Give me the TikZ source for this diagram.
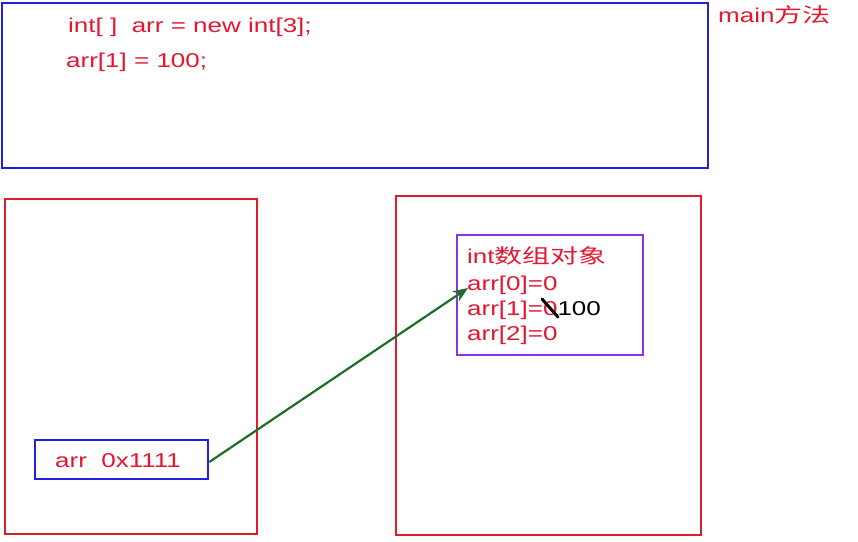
\documentclass[tikz,border=0pt]{standalone}
\usepackage{fontspec}
\setmainfont{Liberation Sans}[FakeStretch=1.3]
\newfontfamily\cjk{Noto Sans CJK SC}[FakeStretch=1.4]
\usetikzlibrary{arrows.meta}
\definecolor{boxred}{RGB}{222,30,38}
\definecolor{boxblue}{RGB}{35,30,225}
\definecolor{boxpurple}{RGB}{140,50,235}
\definecolor{txtred}{RGB}{228,22,48}
\definecolor{arrgreen}{RGB}{30,110,40}
\tikzset{
  frame/.style={draw, line width=2.3pt, inner sep=0pt, anchor=north west},
  label/.style={inner sep=0pt, anchor=base west, text=txtred, font=\fontsize{20}{24}\selectfont},
}
\begin{document}
\begin{tikzpicture}[x=1pt,y=-1pt]
\useasboundingbox (0,0) rectangle (858,541);
% frames
\node[frame, draw=boxblue, minimum width=706pt, minimum height=165pt] (mainbox) at (1,2) {};
\node[frame, draw=boxred, minimum width=252pt, minimum height=335pt] (stack) at (4,198) {};
\node[frame, draw=boxred, minimum width=305pt, minimum height=339pt] (heap) at (395,195) {};
\node[frame, draw=boxpurple, minimum width=186pt, minimum height=120pt] (obj) at (456,234) {};
\node[frame, draw=boxblue, minimum width=173pt, minimum height=39pt] (var) at (34,439) {};
% texts
\node[label] (code1) at (68,32) {int[ ]\ \ arr = new int[3];};
\node[label] (code2) at (66,67) {arr[1] = 100;};
\node[label] (mainlbl) at (718,22) {main{\cjk 方法}};
\node[label] (objtitle) at (467,263) {int{\cjk 数组对象}};
\node[label] (a0) at (467,290) {arr[0]=0};
\node[label] (a1) at (467,315) {arr[1]=0\textcolor{black}{100}};
\node[label] (a2) at (467,340) {arr[2]=0};
\node[label] (varlbl) at (55,467) {arr\ \ 0x1111};
% crossing-out stroke
\coordinate (s1) at (542,299);
\coordinate (s2) at (558,317);
\draw[line width=3pt, line cap=round] (s1) -- (s2);
% arrow
\coordinate (tip) at (468,288);
\draw[arrgreen, line width=2.2pt, -{Stealth[length=15pt,width=12pt]}] (var.east |- 0,462) -- (tip);
\end{tikzpicture}
\end{document}
